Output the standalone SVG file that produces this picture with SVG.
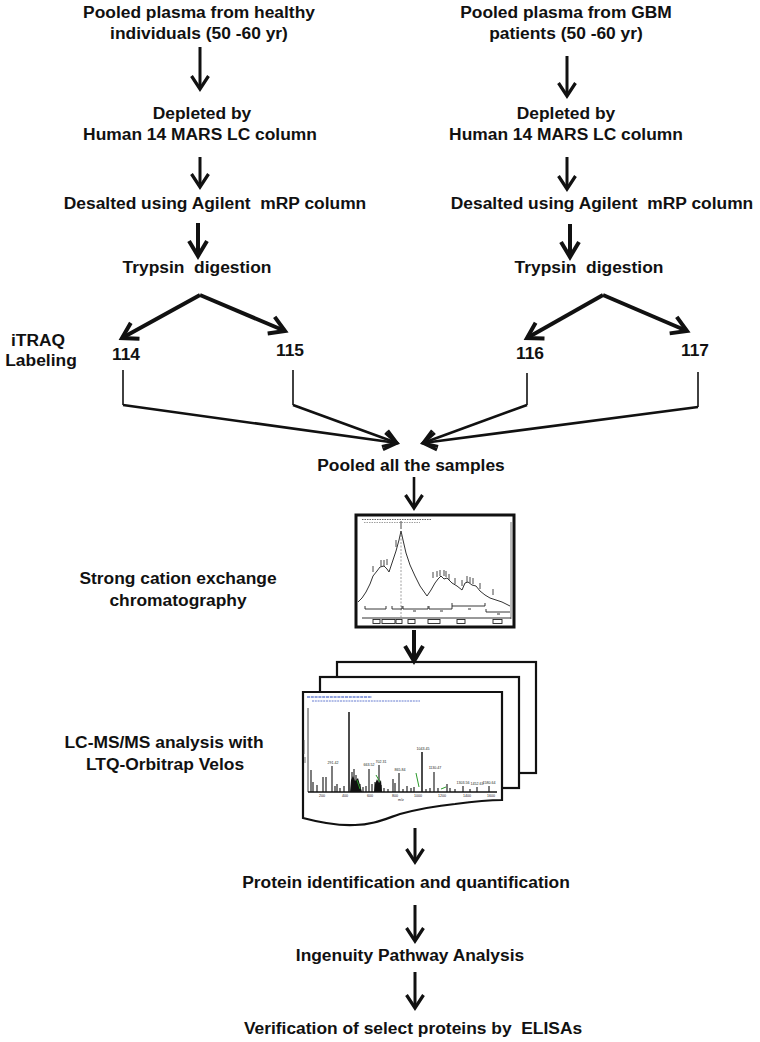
<svg xmlns="http://www.w3.org/2000/svg" width="760" height="1042" viewBox="0 0 760 1042">
<defs>
<style>
.t{font-family:"Liberation Sans",Arial,sans-serif;font-weight:bold;font-size:17.4px;fill:#111;text-anchor:middle;white-space:pre}
.c{fill:none;stroke:#111;stroke-width:3}
.ck{fill:none;stroke:#111;stroke-width:4}
.cv{fill:none;stroke:#111;stroke-width:2.6}
.thin{fill:none;stroke:#111;stroke-width:1.6}
.tiny{font-family:"Liberation Sans",Arial,sans-serif;font-size:3.6px;fill:#222;text-anchor:middle}
.sheet{fill:#fff;stroke:#111;stroke-width:2.2}
.pk{stroke:#111;stroke-width:1.1}
.gr{stroke:#2a9a2a;stroke-width:1}
.lab{stroke:#333;stroke-width:0.9}
</style>
<marker id="ah" markerUnits="userSpaceOnUse" orient="auto" overflow="visible" refX="0" refY="0" markerWidth="20" markerHeight="20">
<path d="M-13,-8.5 L0,0 L-13,8.5" fill="none" stroke="#111" stroke-width="3.2" stroke-linejoin="miter"/>
</marker>
<marker id="ahk" markerUnits="userSpaceOnUse" orient="auto" overflow="visible" refX="0" refY="0" markerWidth="20" markerHeight="20">
<path d="M-15,-9 L0,0 L-15,9" fill="none" stroke="#111" stroke-width="4" stroke-linejoin="miter"/>
</marker>
</defs>
<rect width="760" height="1042" fill="#fff"/>

<g id="n-healthy"><text class="t" x="199" y="18">Pooled plasma from healthy</text><text class="t" x="199" y="39" xml:space="preserve">individuals (50 -60 yr)</text></g>
<g id="n-gbm"><text class="t" x="566" y="18">Pooled plasma from GBM</text><text class="t" x="566" y="39" xml:space="preserve">patients (50 -60 yr)</text></g>
<g id="n-deplete-l"><text class="t" x="202" y="119">Depleted by</text><text class="t" x="200" y="140">Human 14 MARS LC column</text></g>
<g id="n-deplete-r"><text class="t" x="566" y="119">Depleted by</text><text class="t" x="566" y="140">Human 14 MARS LC column</text></g>
<g id="n-desalt-l"><text class="t" x="215" y="209" xml:space="preserve">Desalted using Agilent  mRP column</text></g>
<g id="n-desalt-r"><text class="t" x="602" y="209" xml:space="preserve">Desalted using Agilent  mRP column</text></g>
<g id="n-trypsin-l"><text class="t" x="197" y="273" xml:space="preserve">Trypsin  digestion</text></g>
<g id="n-trypsin-r"><text class="t" x="589" y="273" xml:space="preserve">Trypsin  digestion</text></g>
<g id="n-itraq"><text class="t" x="38" y="346">iTRAQ</text><text class="t" x="41" y="366">Labeling</text></g>
<g id="n-114"><text class="t" x="126" y="360">114</text></g>
<g id="n-115"><text class="t" x="290" y="356">115</text></g>
<g id="n-116"><text class="t" x="530" y="359">116</text></g>
<g id="n-117"><text class="t" x="695" y="356">117</text></g>
<g id="n-pooled"><text class="t" x="411" y="471">Pooled all the samples</text></g>
<g id="n-scx"><text class="t" x="178" y="584">Strong cation exchange</text><text class="t" x="178" y="606">chromatography</text></g>
<g id="n-lcms"><text class="t" x="164" y="748">LC-MS/MS analysis with</text><text class="t" x="165" y="770">LTQ-Orbitrap Velos</text></g>
<g id="n-protein"><text class="t" x="406" y="888">Protein identification and quantification</text></g>
<g id="n-ipa"><text class="t" x="410" y="961">Ingenuity Pathway Analysis</text></g>
<g id="n-elisa"><text class="t" x="413" y="1034" xml:space="preserve">Verification of select proteins by  ELISAs</text></g>

<g id="n-chromatogram">
<rect x="356" y="515" width="158" height="112" fill="#fff" stroke="#111" stroke-width="3"/>
<line x1="362" y1="519.5" x2="432" y2="519.5" stroke="#666" stroke-width="1" stroke-dasharray="1.5,1"/>
<line x1="364" y1="522.5" x2="420" y2="522.5" stroke="#888" stroke-width="0.8" stroke-dasharray="1.5,1"/>
<line x1="511" y1="522" x2="511" y2="619" stroke="#555" stroke-width="0.8"/>
<line x1="362" y1="618" x2="511" y2="618" stroke="#333" stroke-width="1"/>
<line x1="401" y1="535" x2="401" y2="618" stroke="#888" stroke-width="0.8" stroke-dasharray="2,1.5"/>
<polyline fill="none" stroke="#333" stroke-width="1" points="358,602 362,598 366,592 370,584 373,576 377,571 380,567 384,566 387,569 389,572 392,563 396,551 399,540 401,531 403,540 406,553 410,565 415,576 420,586 427,596 431,590 435,583 438,579 441,576 444,579 447,578 452,583 457,586 462,590 465,583 468,582 472,585 476,586 480,591 485,595 490,598 496,600 502,602 510,606"/>
<g class="lab">
<line x1="373" y1="566" x2="373" y2="572"/><line x1="381" y1="560" x2="381" y2="566"/><line x1="384" y1="560" x2="384" y2="566"/><line x1="387" y1="559" x2="387" y2="565"/><line x1="396" y1="540" x2="396" y2="547"/><line x1="401" y1="521" x2="401" y2="529"/><line x1="433" y1="572" x2="433" y2="578"/><line x1="437" y1="571" x2="437" y2="577"/><line x1="440" y1="570" x2="440" y2="576"/><line x1="444" y1="570" x2="444" y2="576"/><line x1="446" y1="571" x2="446" y2="577"/><line x1="449" y1="574" x2="449" y2="580"/><line x1="455" y1="578" x2="455" y2="584"/><line x1="462" y1="580" x2="462" y2="586"/><line x1="467" y1="576" x2="467" y2="582"/><line x1="470" y1="577" x2="470" y2="583"/><line x1="473" y1="578" x2="473" y2="584"/><line x1="480" y1="583" x2="480" y2="589"/><line x1="493" y1="589" x2="493" y2="595"/>
</g>
<g fill="none" stroke="#222" stroke-width="0.9">
<path d="M365,606 V609 H386 V606"/><path d="M392,606 V609 H402 V606"/><path d="M403,606 V609 H428 V606"/><path d="M429,606 V609 H452 V606"/><path d="M452,603 V606 H485 V603"/><path d="M486,609 V612 H510"/>
<rect x="373" y="619.5" width="7" height="4"/><rect x="382" y="619.5" width="13" height="4"/><rect x="396" y="619.5" width="6" height="4"/><rect x="408" y="619.5" width="7" height="4"/><rect x="428" y="619.5" width="12" height="4"/><rect x="457" y="619.5" width="8" height="4"/><rect x="493" y="619.5" width="9" height="4"/>
<path d="M413,611 h3 M440,611 h3 M468,609 h3 M497,614 h3"/>
</g>
</g>

<g id="n-ms">
<rect class="sheet" x="337" y="662" width="199" height="111"/>
<rect class="sheet" x="320" y="677" width="199" height="111"/>
<path class="sheet" d="M303,692 H502 V800 C490,800 470,802 455,804 C435,806 415,810 400,814 C385,819 372,825 355,825 C335,826 318,822 303,818 Z"/>
<g stroke="#2244bb" stroke-width="1">
<line x1="307" y1="697" x2="372" y2="697" stroke-dasharray="3,0.8"/>
<line x1="312" y1="701" x2="420" y2="701" stroke-width="0.7" stroke-dasharray="2,0.8"/>
</g>
<line x1="308" y1="708" x2="308" y2="792" stroke="#111" stroke-width="0.8"/>
<line x1="308" y1="792" x2="497" y2="792" stroke="#111" stroke-width="1.4"/>
<path d="M304,740 v14 M305,757 v6" stroke="#444" stroke-width="0.7"/>
<g class="pk">
<line x1="311" y1="770" x2="311" y2="792"/><line x1="313" y1="782" x2="313" y2="792"/><line x1="317" y1="785" x2="317" y2="792"/><line x1="323" y1="777" x2="323" y2="792"/><line x1="326" y1="777" x2="326" y2="792"/><line x1="332" y1="766" x2="332" y2="792"/><line x1="335" y1="786" x2="335" y2="792"/><line x1="337" y1="784" x2="337" y2="792"/><line x1="340" y1="788" x2="340" y2="792"/><line x1="344" y1="786" x2="344" y2="792"/><line x1="349" y1="712" x2="349" y2="792" stroke-width="1.5"/><line x1="352" y1="772" x2="352" y2="792"/><line x1="354" y1="769" x2="354" y2="792"/><line x1="356" y1="775" x2="356" y2="792"/><line x1="360" y1="784" x2="360" y2="792"/><line x1="363" y1="787" x2="363" y2="792"/><line x1="366" y1="786" x2="366" y2="792"/><line x1="369" y1="769" x2="369" y2="792"/><line x1="372" y1="784" x2="372" y2="792"/><line x1="375" y1="782" x2="375" y2="792"/><line x1="379" y1="765" x2="379" y2="792"/><line x1="381" y1="785" x2="381" y2="792"/><line x1="384" y1="788" x2="384" y2="792"/><line x1="388" y1="789" x2="388" y2="792"/><line x1="393" y1="779" x2="393" y2="792"/><line x1="395" y1="783" x2="395" y2="792"/><line x1="399" y1="773" x2="399" y2="792"/><line x1="403" y1="789" x2="403" y2="792"/><line x1="407" y1="786" x2="407" y2="792"/><line x1="411" y1="788" x2="411" y2="792"/><line x1="414" y1="787" x2="414" y2="792"/><line x1="422" y1="752" x2="422" y2="792" stroke-width="1.5"/><line x1="426" y1="789" x2="426" y2="792"/><line x1="430" y1="788" x2="430" y2="792"/><line x1="434" y1="772" x2="434" y2="792"/><line x1="438" y1="788" x2="438" y2="792"/><line x1="447" y1="784" x2="447" y2="792"/><line x1="450" y1="788" x2="450" y2="792"/><line x1="455" y1="789" x2="455" y2="792"/><line x1="463" y1="786" x2="463" y2="792"/><line x1="470" y1="789" x2="470" y2="792"/><line x1="477" y1="787" x2="477" y2="792"/><line x1="489" y1="786" x2="489" y2="792"/>
</g>
<path d="M350,792 L351,780 L353,776 L355,781 L358,778 L360,785 L362,792 Z M374,792 L375,784 L377,779 L379,783 L381,780 L382,792 Z" fill="#111"/>
<g class="gr">
<line x1="416" y1="773" x2="419" y2="787"/><line x1="357" y1="780" x2="360" y2="789"/><line x1="376" y1="775" x2="380" y2="782"/><line x1="441" y1="789" x2="446" y2="787"/>
</g>
<g class="tiny">
<text x="423" y="750">1043.45</text><text x="435" y="769">1130.47</text><text x="381" y="763">702.31</text><text x="369" y="766">663.52</text><text x="333" y="764">291.42</text><text x="400" y="771">865.84</text><text x="463" y="784">1303.56</text><text x="477" y="785">1452.63</text><text x="489" y="784">1580.64</text>
<text x="322" y="797">200</text><text x="345" y="797">400</text><text x="370" y="797">600</text><text x="395" y="797">800</text><text x="418" y="797">1000</text><text x="442" y="797">1200</text><text x="467" y="797">1400</text><text x="491" y="797">1600</text><text x="401" y="801">m/z</text>
</g>
</g>

<g id="connectors">
<line class="c" x1="200" y1="47" x2="200" y2="89" marker-end="url(#ah)"/>
<line class="c" x1="567" y1="56" x2="567" y2="96" marker-end="url(#ah)"/>
<line class="c" x1="200" y1="157" x2="200" y2="187" marker-end="url(#ah)"/>
<line class="c" x1="567" y1="157" x2="567" y2="189" marker-end="url(#ah)"/>
<line class="ck" x1="198" y1="223" x2="198" y2="256" marker-end="url(#ahk)"/>
<line class="ck" x1="570" y1="224" x2="570" y2="257" marker-end="url(#ahk)"/>
<line class="ck" x1="200" y1="295" x2="122" y2="338" marker-end="url(#ahk)"/>
<line class="ck" x1="200" y1="295" x2="285" y2="331" marker-end="url(#ahk)"/>
<line class="ck" x1="603" y1="295" x2="527" y2="338" marker-end="url(#ahk)"/>
<line class="ck" x1="603" y1="295" x2="687" y2="331" marker-end="url(#ahk)"/>
<line class="thin" x1="123" y1="370" x2="123" y2="405"/>
<line class="thin" x1="293" y1="370" x2="293" y2="405"/>
<line class="thin" x1="527" y1="373" x2="527" y2="405"/>
<line class="thin" x1="698" y1="372" x2="698" y2="407"/>
<line class="cv" x1="123" y1="405" x2="397" y2="443" marker-end="url(#ah)"/>
<line class="cv" x1="293" y1="405" x2="397" y2="443" marker-end="url(#ah)"/>
<line class="cv" x1="527" y1="405" x2="423" y2="443" marker-end="url(#ah)"/>
<line class="cv" x1="698" y1="407" x2="423" y2="443" marker-end="url(#ah)"/>
<line class="cv" x1="414" y1="477" x2="414" y2="508" marker-end="url(#ah)"/>
<line class="ck" x1="414" y1="630" x2="414" y2="661" marker-end="url(#ahk)"/>
<line class="c" x1="415" y1="828" x2="415" y2="862" marker-end="url(#ah)"/>
<line class="c" x1="415" y1="905" x2="415" y2="941" marker-end="url(#ah)"/>
<line class="c" x1="415" y1="972" x2="415" y2="1008" marker-end="url(#ah)"/>
</g>
</svg>
